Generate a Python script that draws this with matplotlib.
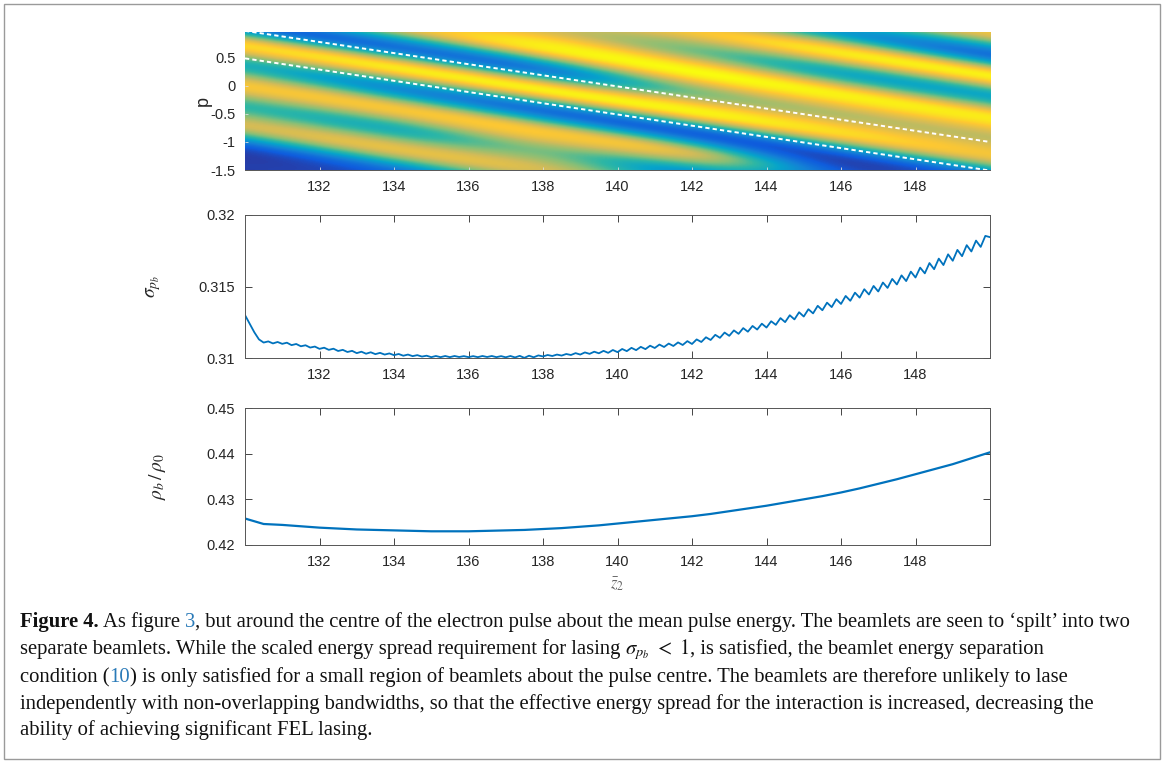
import matplotlib

matplotlib.use("Agg")

import numpy as np  # noqa: E402
from matplotlib import pyplot as plt, transforms as mtransforms  # noqa: E402
from matplotlib.colors import LinearSegmentedColormap  # noqa: E402
from matplotlib.patches import Rectangle  # noqa: E402

W, H = 1165, 762

# ---- data ------------------------------------------------------------------
z_ticks = [132, 134, 136, 138, 140, 142, 144, 146, 148]

# phase-space map: colour level along each stripe (rows: stripe offset u = p at
# z=130 following the stripe, columns: z positions)
map_z = [130, 134, 138, 142, 146, 150]
map_u = [-1.46, -1.095, -0.73, -0.365, 0.0, 0.365, 0.73,
         1.095, 1.46, 1.825, 2.19, 2.555, 2.92]
map_level = [
    [0.05, 0.08, 0.15, 0.20, 0.20, 0.20],
    [0.12, 0.20, 0.30, 0.30, 0.30, 0.30],
    [0.75, 0.80, 0.75, 0.50, 0.50, 0.50],
    [0.50, 0.45, 0.60, 0.30, 0.20, 0.20],
    [0.85, 0.85, 0.85, 0.75, 0.15, 0.20],
    [0.45, 0.30, 0.20, 0.15, 0.12, 0.15],
    [0.90, 0.95, 0.97, 0.97, 0.90, 0.82],
    [0.15, 0.20, 0.25, 0.60, 0.70, 0.72],
    [0.80, 0.80, 0.95, 1.00, 0.97, 0.95],
    [0.60, 0.65, 0.75, 0.60, 0.42, 0.40],
    [0.80, 0.80, 0.80, 0.85, 0.95, 0.97],
    [0.50, 0.50, 0.50, 0.50, 0.35, 0.20],
    [0.80, 0.80, 0.80, 0.80, 0.80, 0.80],
]
stripe_slope = -0.1  # dp/dz of the stripes

dash_z = [130, 150]
dash_upper_p = [0.98, -1.00]
dash_lower_p = [0.49, -1.51]

# sigma_pb sampled every 0.125 in z from 130 to 150
sigma_pb = [
    0.31300, 0.31240, 0.31180, 0.31130, 0.31108, 0.31116, 0.31102, 0.31112,
    0.31099, 0.31107, 0.31090, 0.31098, 0.31082, 0.31089, 0.31073, 0.31080,
    0.31064, 0.31072, 0.31057, 0.31065, 0.31049, 0.31057, 0.31042, 0.31050,
    0.31034, 0.31044, 0.31030, 0.31040, 0.31027, 0.31036, 0.31024, 0.31032,
    0.31020, 0.31028, 0.31016, 0.31024, 0.31013, 0.31020, 0.31010, 0.31016,
    0.31006, 0.31014, 0.31006, 0.31014, 0.31006, 0.31014, 0.31007, 0.31013,
    0.31006, 0.31013, 0.31006, 0.31014, 0.31007, 0.31014, 0.31006, 0.31013,
    0.31005, 0.31014, 0.31004, 0.31015, 0.31001, 0.31016, 0.31005, 0.31018,
    0.31011, 0.31021, 0.31014, 0.31024, 0.31017, 0.31028, 0.31021, 0.31034,
    0.31024, 0.31039, 0.31029, 0.31044, 0.31033, 0.31050, 0.31036, 0.31056,
    0.31041, 0.31063, 0.31048, 0.31071, 0.31055, 0.31078, 0.31062, 0.31086,
    0.31070, 0.31094, 0.31077, 0.31101, 0.31084, 0.31109, 0.31091, 0.31118,
    0.31098, 0.31130, 0.31112, 0.31145, 0.31126, 0.31162, 0.31141, 0.31178,
    0.31155, 0.31193, 0.31169, 0.31209, 0.31184, 0.31224, 0.31199, 0.31240,
    0.31213, 0.31257, 0.31232, 0.31279, 0.31251, 0.31299, 0.31270, 0.31320,
    0.31290, 0.31341, 0.31312, 0.31365, 0.31334, 0.31387, 0.31356, 0.31411,
    0.31378, 0.31434, 0.31400, 0.31457, 0.31422, 0.31481, 0.31444, 0.31504,
    0.31465, 0.31528, 0.31490, 0.31553, 0.31514, 0.31578, 0.31538, 0.31604,
    0.31563, 0.31632, 0.31592, 0.31664, 0.31621, 0.31695, 0.31650, 0.31725,
    0.31680, 0.31756, 0.31712, 0.31789, 0.31745, 0.31821, 0.31777, 0.31854,
    0.31845,
]

# rho_b / rho_0 sampled every 0.5 in z from 130 to 150
rho_ratio = [
    0.4258, 0.4246, 0.4244, 0.4241, 0.4238, 0.4236, 0.4234, 0.4233, 0.4232,
    0.4231, 0.4230, 0.4230, 0.4230, 0.4231, 0.4232, 0.4233, 0.4235, 0.4237,
    0.4240, 0.4243, 0.4247, 0.4251, 0.4255, 0.4259, 0.4263, 0.4268, 0.4274,
    0.4280, 0.4286, 0.4293, 0.4300, 0.4307, 0.4315, 0.4324, 0.4334, 0.4344,
    0.4355, 0.4366, 0.4377, 0.4390, 0.4403,
]

caption_lines = [
    (627, [("Figure 4.", "bold", 0), (" As figure ", "normal", 0), ("3", "link", 0),
           (", but around the centre of the electron pulse about the mean pulse energy. "
            "The beamlets are seen to \u2018spilt\u2019 into two", "normal", 0)]),
    (654, [("separate beamlets. While the scaled energy spread requirement for lasing",
            "normal", 0), (r"$\sigma_{p_b}\ <\ 1$", "math", 5),
           (", is satisfied, the beamlet energy separation", "normal", 0)]),
    (682, [("condition (", "normal", 0), ("10", "link", 0),
           (") is only satisfied for a small region of beamlets about the pulse centre. "
            "The beamlets are therefore unlikely to lase", "normal", 0)]),
    (709, [("independently with non-overlapping bandwidths, so that the effective energy "
            "spread for the interaction is increased, decreasing the", "normal", 0)]),
    (735, [("ability of achieving significant FEL lasing.", "normal", 0)]),
]

# ---- styling ---------------------------------------------------------------
parula = LinearSegmentedColormap.from_list(
    "parula_like",
    [
        (0.00, "#352a87"),
        (0.12, "#0f5cdd"),
        (0.25, "#1481d6"),
        (0.38, "#06a4ca"),
        (0.50, "#2eb7a4"),
        (0.62, "#87bf77"),
        (0.75, "#d1bb59"),
        (0.87, "#fec832"),
        (1.00, "#f9fb0e"),
    ],
)
AX_GREY = "#262626"
LINE_BLUE = "#0072bd"
plt.rcParams["mathtext.fontset"] = "stix"


def _style_axis(axis, xlim, ylim, yticks, ylabels):
    axis.set_xlim(*xlim)
    axis.set_ylim(*ylim)
    axis.set_xticks(z_ticks)
    axis.set_xticklabels([str(t) for t in z_ticks])
    axis.set_yticks(yticks)
    axis.set_yticklabels(ylabels)
    axis.tick_params(direction="in", length=5, width=0.6, color=AX_GREY,
                     labelcolor=AX_GREY, labelsize=10.5, pad=7)
    for label in axis.get_xticklabels() + axis.get_yticklabels():
        label.set_family("Liberation Sans")
    for spine in axis.spines.values():
        spine.set_color("#555555")
        spine.set_linewidth(0.7)


def _axes_rect(left, top, right, bottom):
    return [left / W, 1 - bottom / H, (right - left) / W, (bottom - top) / H]


fig = plt.figure(figsize=(W / 100, H / 100), dpi=100)

# ---- top: phase-space map --------------------------------------------------
ax_map = fig.add_axes(_axes_rect(245, 32, 990, 170))
shear = mtransforms.Affine2D(
    np.array([[1.0, 0.0, 0.0],
              [stripe_slope, 1.0, -stripe_slope * map_z[0]],
              [0.0, 0.0, 1.0]])
)
half_dz = (map_z[1] - map_z[0]) / 2
half_du = (map_u[1] - map_u[0]) / 2
ax_map.imshow(
    np.array(map_level),
    extent=(map_z[0] - half_dz, map_z[-1] + half_dz,
            map_u[0] - half_du, map_u[-1] + half_du),
    origin="lower",
    aspect="auto",
    cmap=parula,
    vmin=0.0,
    vmax=1.0,
    interpolation="catrom",
    interpolation_stage="data",
    transform=shear + ax_map.transData,
)
for dash_p in (dash_upper_p, dash_lower_p):
    ax_map.plot(dash_z, dash_p, color="white", lw=1.4, ls=(0, (2.2, 1.6)))
_style_axis(ax_map, (130, 150), (-1.5, 0.96), [-1.5, -1, -0.5, 0, 0.5],
            ["-1.5", "-1", "-0.5", "0", "0.5"])
ax_map.tick_params(length=2.5, color="#dddddd")
for side in ("top", "right", "left"):
    ax_map.spines[side].set_visible(False)
ax_map.set_ylabel("p", family="Liberation Sans", fontsize=13, color=AX_GREY)
ax_map.yaxis.set_label_coords(-0.044, 0.5)

# ---- middle: energy spread -------------------------------------------------
ax_sig = fig.add_axes(_axes_rect(245, 215, 990, 358))
z_sigma = np.linspace(130, 150, len(sigma_pb))
ax_sig.plot(z_sigma, sigma_pb, color=LINE_BLUE, lw=1.3)
_style_axis(ax_sig, (130, 150), (0.31, 0.32), [0.31, 0.315, 0.32],
            ["0.31", "0.315", "0.32"])
ax_sig.tick_params(top=True, right=True)
ax_sig.set_ylabel(r"$\sigma_{p_b}$", fontsize=14, color=AX_GREY)
ax_sig.yaxis.set_label_coords(-0.11, 0.5)

# ---- bottom: rho ratio -----------------------------------------------------
ax_rho = fig.add_axes(_axes_rect(245, 408, 990, 545))
z_rho = np.linspace(130, 150, len(rho_ratio))
ax_rho.plot(z_rho, rho_ratio, color=LINE_BLUE, lw=1.6)
_style_axis(ax_rho, (130, 150), (0.42, 0.45), [0.42, 0.43, 0.44, 0.45],
            ["0.42", "0.43", "0.44", "0.45"])
ax_rho.tick_params(top=True, right=True)
ax_rho.set_ylabel(r"$\rho_b\,/\,\rho_0$", fontsize=14, color=AX_GREY)
ax_rho.yaxis.set_label_coords(-0.103, 0.5)
ax_rho.set_xlabel(r"$\bar{z}_2$", fontsize=12, color="#666666")
ax_rho.xaxis.set_label_coords(0.5, -0.22)

# ---- caption ---------------------------------------------------------------
styles = {
    "normal": {"family": "Liberation Serif", "color": "#111111"},
    "bold": {"family": "Liberation Serif", "color": "#111111", "fontweight": "bold"},
    "link": {"family": "Liberation Serif", "color": "#2a7ab8"},
    "math": {"color": "#111111"},
}
renderer = fig.canvas.get_renderer()
for baseline, runs in caption_lines:
    x = 20.0
    for text, style, gap in runs:
        x += gap
        item = fig.text(x / W, 1 - baseline / H, text, fontsize=14.85,
                        ha="left", va="baseline", **styles[style])
        x = item.get_window_extent(renderer).x1

fig.patches.append(
    Rectangle((4 / W, 3 / H), (1160 - 4) / W, (758 - 3) / H, transform=fig.transFigure,
              fill=False, edgecolor="#9a9a9a", linewidth=1.0)
)

fig.savefig("out.png", dpi=100)
plt.close(fig)
